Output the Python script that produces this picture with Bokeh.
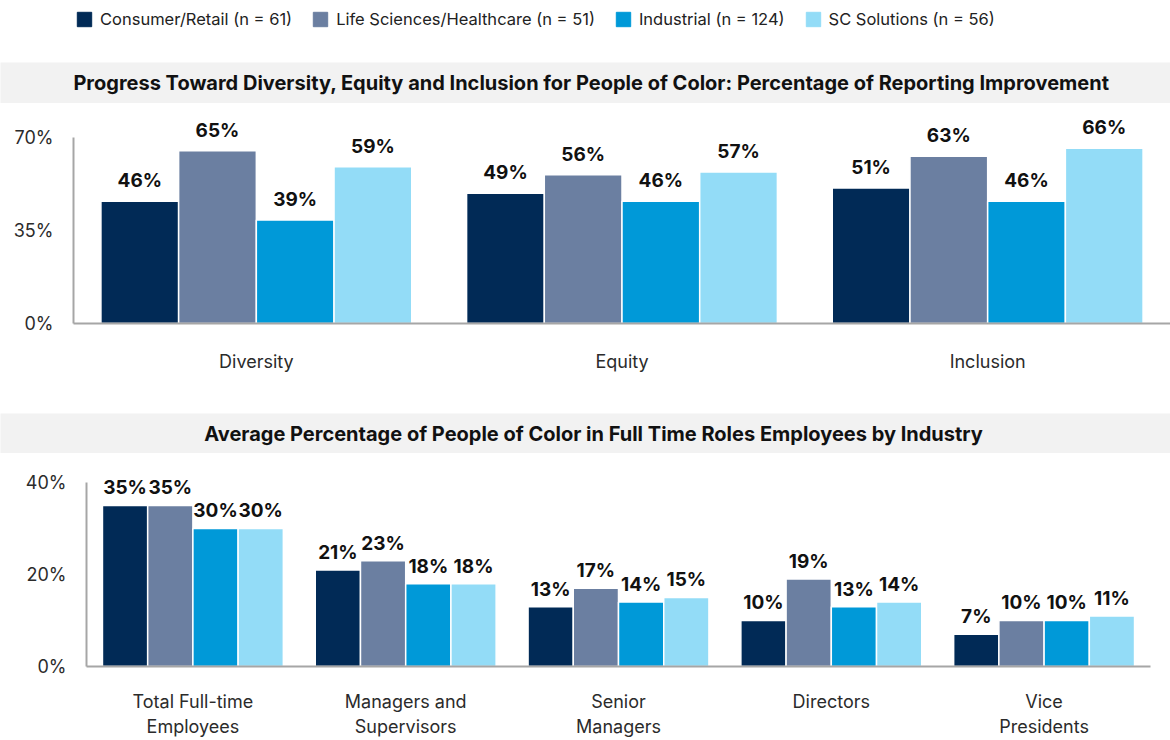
from bokeh.plotting import figure
from bokeh.models import (ColumnDataSource, FactorRange, Range1d, LabelSet, Legend, LegendItem,
                          FixedTicker, PrintfTickFormatter, Label)
from bokeh.core.properties import value
from bokeh.layouts import column
from bokeh.transform import dodge
from bokeh.embed import file_html
from bokeh.resources import INLINE

# ---------------- data ----------------
industries = ["Consumer/Retail (n = 61)", "Life Sciences/Healthcare (n = 51)",
              "Industrial (n = 124)", "SC Solutions (n = 56)"]
colors = ["#012a56", "#6b7fa1", "#0099d8", "#93dcf7"]

dei_title = "Progress Toward Diversity, Equity and Inclusion for People of Color: Percentage of Reporting Improvement"
dei_categories = ["Diversity", "Equity", "Inclusion"]
consumer_dei = [46, 49, 51]
life_dei = [65, 56, 63]
industrial_dei = [39, 46, 46]
sc_dei = [59, 57, 66]
dei_ticks = [0, 35, 70]

roles_title = "Average Percentage of People of Color in Full Time Roles Employees by Industry"
roles = ["Total Full-time\nEmployees", "Managers and\nSupervisors", "Senior\nManagers",
         "Directors", "Vice\nPresidents"]
consumer_roles = [35, 21, 13, 10, 7]
life_roles = [35, 23, 17, 19, 10]
industrial_roles = [30, 18, 14, 13, 10]
sc_roles = [30, 18, 15, 14, 11]
roles_ticks = [0, 20, 40]

FONT = "Inter"
W = 1170


def title_band(text, h, xoff):
    p = figure(width=W, height=h, x_range=Range1d(0, 1), y_range=Range1d(0, 1),
               output_backend="svg", toolbar_location=None, min_border=0,
               x_axis_location=None, y_axis_location=None,
               background_fill_color="#f2f2f2", border_fill_color="#f2f2f2")
    p.outline_line_color = None
    p.grid.visible = False
    p.add_layout(Label(x=0.5, y=0.5, text=text, text_align="center", text_baseline="middle",
                       text_font=FONT, text_font_style="bold", text_font_size="20px",
                       text_color="#111111", x_offset=xoff))
    return p


def bar_chart(cats, series, ticks, height, ymax, mb_left, mb_right, mb_top, mb_bottom,
              group_width, label_size, label_off, cat_standoff):
    data = dict(cat=cats)
    for k, vals in enumerate(series):
        data[f"v{k}"] = vals
        data[f"t{k}"] = [f"{v}%" for v in vals]
    src = ColumnDataSource(data)
    p = figure(width=W, height=height, x_range=FactorRange(*cats),
               y_range=Range1d(0, ymax), output_backend="svg", toolbar_location=None,
               min_border_left=mb_left, min_border_right=mb_right,
               min_border_top=mb_top, min_border_bottom=mb_bottom)
    p.x_range.range_padding = 0
    n = len(series)
    bw = group_width / n
    for k in range(n):
        off = (k - (n - 1) / 2) * bw
        p.vbar(x=dodge("cat", off, range=p.x_range), top=f"v{k}", width=bw, source=src,
               fill_color=colors[k], line_color="white", line_width=1.5)
        p.add_layout(LabelSet(x=dodge("cat", off, range=p.x_range), y=f"v{k}", text=f"t{k}",
                              source=src, y_offset=label_off, text_align="center",
                              text_baseline="bottom", text_font=value(FONT),
                              text_font_style="bold", text_font_size=value(label_size),
                              text_color="#111111"))
    p.outline_line_color = None
    p.grid.visible = False
    p.background_fill_color = "white"
    for ax in (p.xaxis[0], p.yaxis[0]):
        ax.axis_label = None
        ax.axis_line_color = "#a6a6a6"
        ax.axis_line_width = 2
        ax.major_tick_line_color = None
        ax.minor_tick_line_color = None
        ax.major_tick_out = 0
        ax.major_tick_in = 0
        ax.minor_tick_out = 0
        ax.minor_tick_in = 0
        ax.major_label_text_font = FONT
        ax.major_label_text_font_size = "18px"
        ax.major_label_text_color = "#2b2b2b"
    p.yaxis.ticker = FixedTicker(ticks=ticks)
    p.yaxis.formatter = PrintfTickFormatter(format="%d%%")
    p.yaxis.bounds = (ticks[0], ticks[-1])
    p.yaxis.major_label_standoff = 20
    p.xaxis.major_label_standoff = cat_standoff + 6
    return p


# ---------------- legend strip ----------------
leg = figure(width=W, height=62, x_range=Range1d(0, 1), y_range=Range1d(0, 1),
             output_backend="svg", toolbar_location=None,
             x_axis_location=None, y_axis_location=None,
             min_border_left=75, min_border_top=9, min_border_right=0, min_border_bottom=0)
leg.outline_line_color = None
leg.grid.visible = False
items = []
for name, col in zip(industries, colors):
    r = leg.vbar(x=[-5], top=[-5], width=0.1, fill_color=col, line_color=col)
    items.append(LegendItem(label=name, renderers=[r]))
legend = Legend(items=items, orientation="horizontal", location="top_left",
                glyph_width=18, glyph_height=18, label_standoff=7, spacing=19,
                padding=0, margin=0, border_line_color=None, background_fill_alpha=0,
                label_text_font=FONT, label_text_font_size="16.5px",
                label_text_color="#222222", label_height=18)
leg.add_layout(legend, "center")

t1 = title_band(dei_title, 41, 6)
c1 = bar_chart(dei_categories, [consumer_dei, life_dei, industrial_dei, sc_dei], dei_ticks,
               height=310, ymax=78.3, mb_left=73, mb_right=0, mb_top=12, mb_bottom=90,
               group_width=0.85, label_size="19px", label_off=9, cat_standoff=21)

t2 = title_band(roles_title, 40, 8)
c2 = bar_chart(roles, [consumer_roles, life_roles, industrial_roles, sc_roles], roles_ticks,
               height=287, ymax=42.6, mb_left=86, mb_right=20, mb_top=17, mb_bottom=74,
               group_width=0.85, label_size="19px", label_off=6, cat_standoff=18)

layout = column(column(leg), column(t1), column(c1), column(t2), column(c2), spacing=0)
open("out.html", "w").write(file_html(layout, INLINE))
